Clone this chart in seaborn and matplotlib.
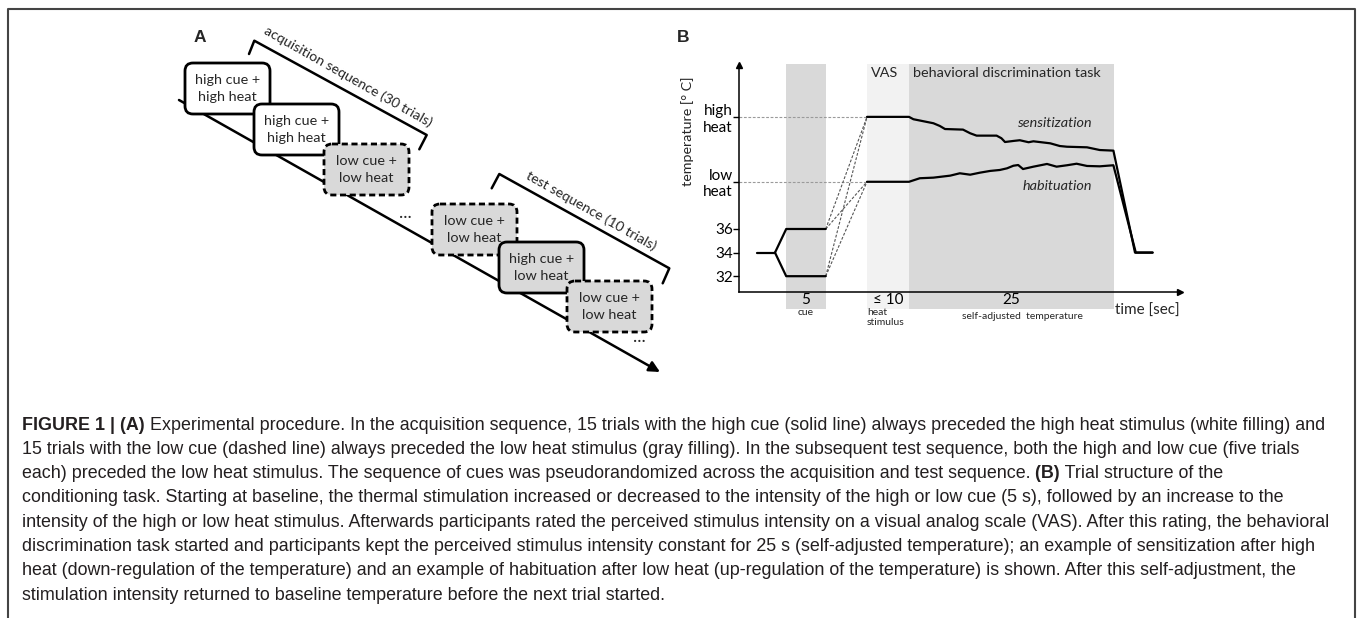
import matplotlib
matplotlib.use("Agg")
import matplotlib.pyplot as plt
import seaborn as sns
import pandas as pd
from matplotlib.patches import FancyBboxPatch

# ---- panel B data (schematic trial, time in s, temperature in deg C) ----
baseline_time = [2.25, 4.5]
baseline_temp = [34, 34]
cue_time = [4.5, 5.9, 10.84]
high_cue_temp = [34, 36, 36]
low_cue_temp = [34, 32, 32]

high_heat = 45.5
low_heat = 40.0
cue_end = 10.84
heat_onset = 16.0

sens_time = [16.0, 21.25, 21.8, 24.3, 25.1, 25.75, 28.0, 28.9, 29.7, 32.2, 32.8, 33.25,
             34.3, 35.1, 36.2, 36.8, 38.9, 40.1, 41.0, 43.5, 45.1, 46.8, 49.5, 51.7]
sens_temp = [45.5, 45.5, 45.3, 44.96, 44.73, 44.47, 44.42, 44.11, 43.91, 43.91, 43.69, 43.37,
             43.46, 43.52, 43.35, 43.43, 43.26, 43.03, 42.97, 42.92, 42.69, 42.64, 34.0, 34.0]
hab_time = [16.0, 21.25, 22.6, 24.3, 26.4, 27.6, 28.9, 30.1, 31.4, 32.6, 33.5, 34.3,
            34.9, 35.5, 36.8, 38.5, 39.7, 41.0, 42.2, 43.5, 45.1, 46.8, 49.6, 51.7]
hab_temp = [40.0, 40.0, 40.3, 40.35, 40.52, 40.72, 40.6, 40.77, 40.92, 41.0, 41.14, 41.36,
            41.42, 41.08, 41.28, 41.51, 41.28, 41.40, 41.53, 41.34, 41.31, 41.40, 34.0, 34.0]

phase_start = [5.9, 16.0, 21.25]
phase_end = [10.84, 21.25, 46.9]
phase_color = ["#d9d9d9", "#f2f2f2", "#d9d9d9"]
phase_dur = ["5", "≤ 10", "25"]
phase_sub = ["cue", "heat\nstimulus", "self-adjusted  temperature"]

ytick_vals = [32, 34, 36, low_heat, high_heat]
ytick_labels = ["32", "34", "36", "low\nheat", "high\nheat"]

# ---- panel A data ----
box_labels = ["high cue +\nhigh heat", "high cue +\nhigh heat", "low cue +\nlow heat",
              "low cue +\nlow heat", "high cue +\nlow heat", "low cue +\nlow heat"]
box_gray = [False, False, True, True, True, True]
box_dashed = [False, False, True, True, False, True]
box_x = [185, 254, 324, 432, 499, 567]
box_y = [63, 104, 144, 204, 242, 281]

caption = [
    [("FIGURE 1 | (A)", True), (" Experimental procedure. In the acquisition sequence, 15 trials with the high cue (solid line) always preceded the high heat stimulus (white filling) and", False)],
    [("15 trials with the low cue (dashed line) always preceded the low heat stimulus (gray filling). In the subsequent test sequence, both the high and low cue (five trials", False)],
    [("each) preceded the low heat stimulus. The sequence of cues was pseudorandomized across the acquisition and test sequence.", False), (" (B)", True), (" Trial structure of the", False)],
    [("conditioning task. Starting at baseline, the thermal stimulation increased or decreased to the intensity of the high or low cue (5 s), followed by an increase to the", False)],
    [("intensity of the high or low heat stimulus. Afterwards participants rated the perceived stimulus intensity on a visual analog scale (VAS). After this rating, the behavioral", False)],
    [("discrimination task started and participants kept the perceived stimulus intensity constant for 25 s (self-adjusted temperature); an example of sensitization after high", False)],
    [("heat (down-regulation of the temperature) and an example of habituation after low heat (up-regulation of the temperature) is shown. After this self-adjustment, the", False)],
    [("stimulation intensity returned to baseline temperature before the next trial started.", False)],
]

sns.set_theme(style="white")
plt.rcParams["font.family"] = ["Lato", "DejaVu Sans"]
cap_font = ["Liberation Sans Narrow", "Liberation Sans", "DejaVu Sans"]

fig = plt.figure(figsize=(13.58, 6.18), dpi=100)
fig.patch.set_facecolor("white")

# overlay axes in pixel units for the diagram, border and caption
ax0 = fig.add_axes([0, 0, 1, 1])
ax0.set_xlim(0, 1358)
ax0.set_ylim(618, 0)
ax0.axis("off")

# frame
ax0.plot([8, 8, 1355, 1355], [618, 9, 9, 618], color="#444444", lw=1.5)

# ---------------- panel A ----------------
ax0.text(200, 38, "A", fontsize=12.5, fontweight="bold", family="Liberation Sans",
         ha="center", va="center")
ax0.annotate("", xy=(660, 372), xytext=(179, 100),
             arrowprops=dict(arrowstyle="-|>", lw=1.8, color="black", mutation_scale=16,
                             shrinkA=0, shrinkB=0), zorder=1)
for lab, gray, dashed, bx, by in zip(box_labels, box_gray, box_dashed, box_x, box_y):
    patch = FancyBboxPatch((bx, by), 85, 51, boxstyle="round,pad=0,rounding_size=8",
                           facecolor="#d9d9d9" if gray else "white", edgecolor="black",
                           lw=2.0, linestyle=(0, (2.2, 1.3)) if dashed else "-", zorder=2)
    ax0.add_patch(patch)
    ax0.text(bx + 42.5, by + 25.5, lab, ha="center", va="center", fontsize=10.4,
             linespacing=1.45, zorder=3)
ax0.text(405, 213, "...", ha="center", va="center", fontsize=13)
ax0.text(639, 337, "...", ha="center", va="center", fontsize=13)

# brackets
ax0.plot([249, 254.3, 426.7, 419.3], [54, 40.7, 135, 149.3], color="black", lw=1.8)
ax0.plot([491.7, 499.3, 669.3, 662.7], [188.3, 174, 268.3, 283.3], color="black", lw=1.8)
ax0.text(348, 77, "acquisition sequence (30 trials)", rotation=-29.5, rotation_mode="anchor",
         ha="center", va="center", fontsize=10.2)
ax0.text(591, 211, "test sequence (10 trials)", rotation=-29.5, rotation_mode="anchor",
         ha="center", va="center", fontsize=10.2)

# ---------------- panel B ----------------
ax0.text(683, 38, "B", fontsize=12.5, fontweight="bold", family="Liberation Sans",
         ha="center", va="center")

xmin, xmax = 0, 56
ymin, ymax = 29.0, 50.2
axb = fig.add_axes([739 / 1358, 1 - 311.6 / 618, 448 / 1358, 250.2 / 618])
axb.set_facecolor("none")
axb.set_xlim(xmin, xmax)
axb.set_ylim(ymin, ymax)

x_axis_y = 30.67
band_lo = (29.25 - ymin) / (ymax - ymin)
band_hi = (49.98 - ymin) / (ymax - ymin)
for s, e, c in zip(phase_start, phase_end, phase_color):
    axb.axvspan(s, e, ymin=band_lo, ymax=band_hi, color=c, lw=0, zorder=0)

# reference lines for the heat levels
for lvl in [high_heat, low_heat]:
    axb.plot([0, heat_onset], [lvl, lvl], color="#9a9a9a", lw=0.8, ls=(0, (2.5, 1.5)), zorder=1)
for t0 in [36, 32]:
    for t1 in [high_heat, low_heat]:
        axb.plot([cue_end, heat_onset], [t0, t1], color="#555555", lw=0.8,
                 ls=(0, (2.5, 1.5)), zorder=1)

sns.lineplot(x=baseline_time, y=baseline_temp, ax=axb, color="black", lw=1.6,
             sort=False, estimator=None)
sns.lineplot(x=cue_time, y=high_cue_temp, ax=axb, color="black", lw=1.6,
             sort=False, estimator=None)
sns.lineplot(x=cue_time, y=low_cue_temp, ax=axb, color="black", lw=1.6,
             sort=False, estimator=None)
sns.lineplot(x=sens_time, y=sens_temp, ax=axb, color="black", lw=1.6,
             sort=False, estimator=None)
sns.lineplot(x=hab_time, y=hab_temp, ax=axb, color="black", lw=1.6,
             sort=False, estimator=None)

# axes with arrows
for side in ["top", "right"]:
    axb.spines[side].set_visible(False)
axb.spines["left"].set_position(("data", 0))
axb.spines["bottom"].set_position(("data", x_axis_y))
axb.spines["left"].set_bounds(x_axis_y, 49.9)
axb.spines["bottom"].set_bounds(0, 55.1)
for side in ["left", "bottom"]:
    axb.spines[side].set_color("black")
    axb.spines[side].set_linewidth(1.1)
axb.plot([0], [49.9], marker="^", color="black", ms=4, clip_on=False)
axb.plot([55.1], [x_axis_y], marker=">", color="black", ms=4, clip_on=False)

axb.set_yticks(ytick_vals)
axb.set_yticklabels(ytick_labels)
axb.tick_params(axis="y", direction="out", length=4, width=1, pad=0.5, labelsize=11,
                colors="black", left=True)
mids = [(s + e) / 2 for s, e in zip(phase_start, phase_end)]
axb.set_xticks(mids)
axb.set_xticklabels(phase_dur)
axb.tick_params(axis="x", length=0, pad=1, labelsize=11, colors="black")
axb.set_xlabel("")
axb.set_ylabel("")

axb.text(mids[0], 29.3, phase_sub[0], ha="center", va="top", fontsize=7.5)
axb.text(phase_start[1], 29.3, phase_sub[1], ha="left", va="top", fontsize=7.5, linespacing=1.2)
axb.text(35.4, 28.95, phase_sub[2], ha="center", va="top", fontsize=7.5)
axb.text(51.0, 29.05, "time [sec]", ha="center", va="center", fontsize=11, clip_on=False)
axb.text(-6.4, 44.3, "temperature [° C]", rotation=90, ha="center", va="center",
         fontsize=10.3, clip_on=False)
axb.text(16.5, 49.2, "VAS", ha="left", va="center", fontsize=10.4)
axb.text(21.75, 49.2, "behavioral discrimination task", ha="left", va="center", fontsize=10.4)
axb.text(44.1, 44.98, "sensitization", ha="right", va="center", fontsize=10.4, style="italic")
axb.text(44.1, 39.64, "habituation", ha="right", va="center", fontsize=10.4, style="italic")

# ---------------- caption ----------------
renderer = fig.canvas.get_renderer()


def line_width(segs, size):
    w = 0
    for s, bold in segs:
        t = ax0.text(0, 0, s, fontsize=size, family=cap_font,
                     fontweight="bold" if bold else "normal")
        w += t.get_window_extent(renderer).width
        t.remove()
    return w


cap_size = 10 * 1305 / line_width(caption[0], 10)
for i, segs in enumerate(caption):
    x = 22
    y = 425 + i * 24.3
    for s, bold in segs:
        t = ax0.text(x, y, s, fontsize=cap_size, family=cap_font, color="#231f20",
                     fontweight="bold" if bold else "normal", ha="left", va="center")
        x += t.get_window_extent(renderer).width

fig.savefig("out.png", dpi=100)
